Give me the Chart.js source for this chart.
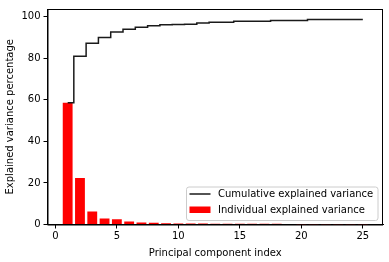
<!DOCTYPE html>
<html>
<head>
<meta charset="utf-8">
<script src="https://cdn.jsdelivr.net/npm/chart.js@4/dist/chart.umd.min.js"></script>
<style>
  html, body { margin: 0; padding: 0; background: #fff; }
  #wrap { width: 389px; height: 262px; }
</style>
</head>
<body>
<div id="wrap"><canvas id="pca"></canvas></div>
<script>
// values
const components = [1,2,3,4,5,6,7,8,9,10,11,12,13,14,15,16,17,18,19,20,21,22,23,24,25];
const individual = [58.6, 22.4, 6.3, 2.9, 2.5, 1.4, 1.0, 0.9, 0.55, 0.5, 0.45, 0.45, 0.4, 0.4, 0.4, 0.35, 0.35, 0.35, 0.3, 0.05, 0.05, 0.04, 0.03, 0.02, 0.01];
const cumulative = [58.6, 81.0, 87.2, 90.0, 92.6, 94.0, 94.9, 95.6, 96.1, 96.3, 96.4, 97.0, 97.3, 97.3, 97.8, 97.8, 97.8, 98.2, 98.2, 98.2, 98.6, 98.6, 98.6, 98.6, 98.6];
const xTicks = [0, 5, 10, 15, 20, 25];
const yTicks = [0, 20, 40, 60, 80, 100];
const labels = ["Cumulative explained variance", "Individual explained variance"];

const font = { family: "DejaVu Sans", size: 10 };
const lineColor = "#1a1a1a";
const barColor = "#ff0000";

// frame on all four sides, plus legend box in the lower right
const frameAndLegend = {
  id: "frameAndLegend",
  afterDraw(chart) {
    const ctx = chart.ctx, a = chart.chartArea;
    ctx.save();
    ctx.strokeStyle = "#000";
    ctx.lineWidth = 1;
    ctx.strokeRect(a.left + 0.5, a.top + 0.5, a.right - a.left - 1, a.bottom - a.top);

    const bx = 186, by = 186.5, bw = 191.5, bh = 33.5;
    ctx.beginPath();
    ctx.roundRect(bx + 0.5, by + 0.5, bw, bh, 2.5);
    ctx.fillStyle = "rgba(255,255,255,0.8)";
    ctx.fill();
    ctx.strokeStyle = "#cccccc";
    ctx.stroke();

    ctx.beginPath();
    ctx.moveTo(189.5, 194);
    ctx.lineTo(210.5, 194);
    ctx.strokeStyle = lineColor;
    ctx.lineWidth = 1.5;
    ctx.stroke();
    ctx.fillStyle = barColor;
    ctx.fillRect(189.5, 206.5, 21, 6.5);

    ctx.fillStyle = "#000";
    ctx.font = "10px 'DejaVu Sans'";
    ctx.textBaseline = "middle";
    ctx.fillText(labels[0], 218, 194);
    ctx.fillText(labels[1], 218, 210);
    ctx.restore();
  }
};

new Chart(document.getElementById("pca"), {
  data: {
    datasets: [
      {
        type: "line",
        label: labels[0],
        data: components.map((c, i) => ({ x: c, y: cumulative[i] })),
        stepped: "middle",
        borderColor: lineColor,
        borderWidth: 1.5,
        pointRadius: 0,
        fill: false,
        order: 0
      },
      {
        type: "bar",
        label: labels[1],
        data: components.map((c, i) => ({ x: c, y: individual[i] })),
        backgroundColor: barColor,
        barPercentage: 0.8,
        categoryPercentage: 1.0,
        order: 1
      }
    ]
  },
  options: {
    responsive: true,
    maintainAspectRatio: false,
    animation: false,
    layout: { padding: { top: 6, right: 6, left: 4, bottom: 0 } },
    plugins: {
      legend: { display: false },
      tooltip: { enabled: false }
    },
    scales: {
      x: {
        type: "linear",
        offset: false,
        min: -0.64,
        max: 26.64,
        afterBuildTicks: axis => { axis.ticks = xTicks.map(v => ({ value: v })); },
        afterFit: scale => { scale.height = 37.5; },
        grid: { offset: false, drawOnChartArea: false, drawTicks: true, tickLength: 4, color: "#000" },
        border: { color: "#000", width: 1 },
        ticks: { color: "#000", font: font, padding: 2, maxRotation: 0 },
        title: { display: true, text: "Principal component index", color: "#000", font: font, padding: { top: 2, bottom: 3 } }
      },
      y: {
        min: 0,
        max: 103.7,
        afterBuildTicks: axis => { axis.ticks = yTicks.map(v => ({ value: v })); },
        afterFit: scale => { scale.width = 43.5; },
        grid: { drawOnChartArea: false, drawTicks: true, tickLength: 4, color: "#000" },
        border: { color: "#000", width: 1 },
        ticks: { color: "#000", font: font, padding: 3 },
        title: { display: true, text: "Explained variance percentage", color: "#000", font: font, padding: { top: 0, bottom: 0 } }
      }
    }
  },
  plugins: [frameAndLegend]
});
</script>
</body>
</html>
